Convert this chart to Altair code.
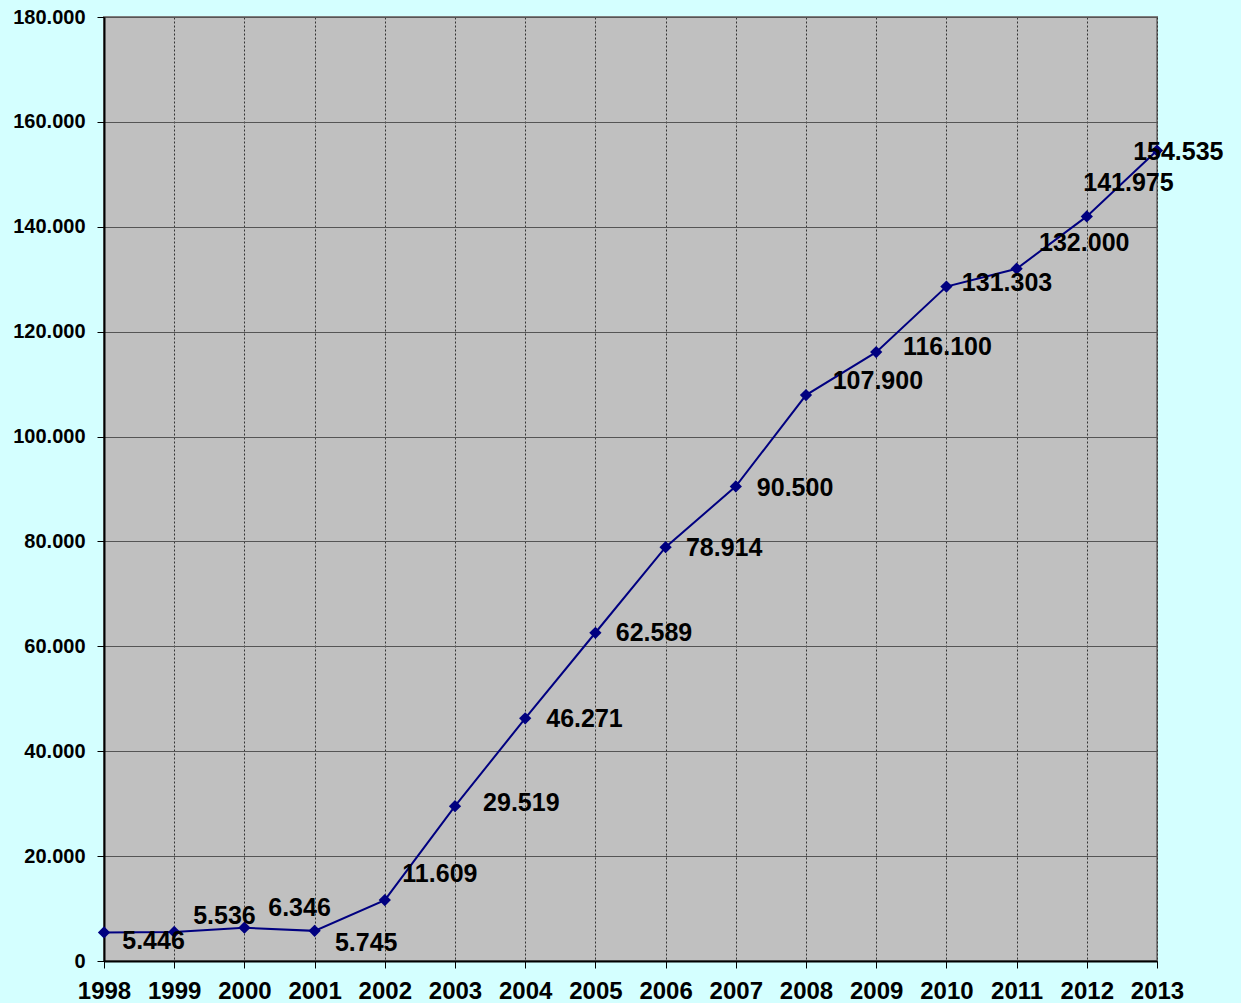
import altair as alt
import pandas as pd

years = list(range(1998, 2014))
values = [5446, 5536, 6346, 5745, 11609, 29519, 46271, 62589, 78914, 90500,
          107900, 116100, 128600, 132000, 141975, 154535]
labels = ["5.446", "5.536", "6.346", "5.745", "11.609", "29.519", "46.271", "62.589",
          "78.914", "90.500", "107.900", "116.100", "131.303", "132.000", "141.975", "154.535"]
# annotation anchor points (data units) where each label was placed
label_x = [1998.26, 1999.27, 2000.34, 2001.29, 2002.25, 2003.40, 2004.30, 2005.29,
           2006.29, 2007.30, 2008.38, 2009.38, 2010.22, 2011.32, 2011.95, 2012.66]
label_y = [3810, 8580, 10100, 3430, 16600, 30100, 46100, 62500,
           78750, 90200, 110600, 117100, 129300, 136900, 148400, 154200]

df = pd.DataFrame({"year": years, "value": values})
ldf = pd.DataFrame({"lx": label_x, "ly": label_y, "label": labels})

FONT = "Liberation Sans"

xs = alt.Scale(domain=[1998, 2013], nice=False, zero=False)
ys = alt.Scale(domain=[0, 180000], nice=False)

x_axis = alt.Axis(values=years, format="d", title=None, grid=True,
                  gridColor="#333333", gridDash=[2, 2], gridWidth=1,
                  domainColor="#000000", domainWidth=2,
                  tickColor="#000000", tickSize=7, tickWidth=1,
                  labelFont=FONT, labelFontSize=24, labelFontWeight="bold",
                  labelColor="#000000", labelPadding=11, labelFlush=False,
                  labelOverlap=False)
y_axis = alt.Axis(values=list(range(0, 180001, 20000)), title=None, grid=True,
                  gridColor="#555555", gridWidth=1,
                  domainColor="#000000", domainWidth=2,
                  tickColor="#000000", tickSize=7, tickWidth=1,
                  labelFont=FONT, labelFontSize=20, labelFontWeight="bold",
                  labelColor="#000000", labelPadding=12,
                  labelExpr="replace(format(datum.value, ','), ',', '.')")

line = alt.Chart(df).mark_line(color="#000080", strokeWidth=2).encode(
    x=alt.X("year:Q", scale=xs, axis=x_axis),
    y=alt.Y("value:Q", scale=ys, axis=y_axis),
)
pts = alt.Chart(df).mark_point(shape="diamond", filled=True, size=150,
                               color="#000080", opacity=1).encode(
    x=alt.X("year:Q", scale=xs),
    y=alt.Y("value:Q", scale=ys),
)
txt = alt.Chart(ldf).mark_text(align="left", baseline="middle", font=FONT,
                               fontSize=25, fontWeight="bold", color="#000000").encode(
    x=alt.X("lx:Q", scale=xs),
    y=alt.Y("ly:Q", scale=ys),
    text="label:N",
)

chart = alt.layer(line, pts, txt).properties(
    width=1053, height=944,
    autosize=alt.AutoSizeParams(type="none"),
    padding={"left": 104, "top": 17, "right": 84, "bottom": 42},
    background="#D4FFFF",
).configure_view(
    fill="#C0C0C0", stroke="#808080", strokeWidth=2
)

chart.save("out.html", embed_options={"renderer": "svg", "actions": False})
